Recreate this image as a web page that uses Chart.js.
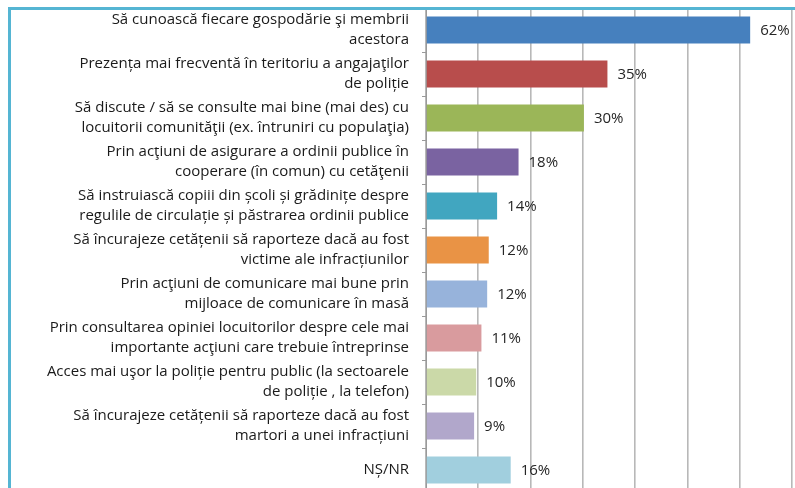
<!DOCTYPE html>
<html>
<head>
<meta charset="utf-8">
<script src="https://cdn.jsdelivr.net/npm/chart.js@4"></script>
<style>
  html, body { margin:0; padding:0; background:#fff; overflow:hidden; }
  #wrap { position:relative; width:795px; height:488px; }
  #c { position:absolute; left:0; top:0; }
  #frame { position:absolute; left:8px; top:7px; width:787px; height:490px;
           border-top:3px solid #55b5d3; border-left:3px solid #55b5d3; pointer-events:none; }
</style>
</head>
<body>
<div id="wrap">
  <canvas id="c" width="795" height="500"></canvas>
  <div id="frame"></div>
</div>
<script>
const categories = [
  ["Să cunoască fiecare gospodărie şi membrii", "acestora"],
  ["Prezența mai frecventă în teritoriu a angajaţilor", "de poliție"],
  ["Să discute / să se consulte mai bine (mai des) cu", "locuitorii comunităţii (ex. întruniri cu populaţia)"],
  ["Prin acţiuni de asigurare a ordinii publice în", "cooperare (în comun) cu cetăţenii"],
  ["Să instruiască copiii din școli și grădinițe despre", "regulile de circulație și păstrarea ordinii publice"],
  ["Să încurajeze cetățenii să raporteze dacă au fost", "victime ale infracțiunilor"],
  ["Prin acţiuni de comunicare mai bune prin", "mijloace de comunicare în masă"],
  ["Prin consultarea opiniei locuitorilor despre cele mai", "importante acţiuni care trebuie întreprinse"],
  ["Acces mai uşor la poliție pentru public (la sectoarele", "de poliție , la telefon)"],
  ["Să încurajeze cetățenii să raporteze dacă au fost", "martori a unei infracțiuni"],
  "NȘ/NR"
];
const values = [62, 34.7, 30.2, 17.7, 13.6, 12.0, 11.7, 10.6, 9.6, 9.2, 16.2];
const barColors = ["#4680be", "#b84d4c", "#9bb658", "#7a63a1", "#41a6c0", "#e99345",
                   "#97b3db", "#d99b9e", "#cbd9a8", "#b1a7cb", "#a1cfde"];

const FONT = "'Open Sans'";

// value labels to the right of each bar
const valueLabels = {
  id: "valueLabels",
  afterDatasetsDraw(chart) {
    const ctx = chart.ctx;
    const meta = chart.getDatasetMeta(0);
    ctx.save();
    ctx.font = "15px " + FONT;
    ctx.fillStyle = "#262626";
    ctx.textBaseline = "middle";
    ctx.textAlign = "left";
    meta.data.forEach((bar, i) => {
      ctx.fillText(Math.round(values[i]) + "%", bar.x + 10, bar.y + 1);
    });
    ctx.restore();
  }
};

new Chart(document.getElementById("c"), {
  type: "bar",
  data: {
    labels: categories,
    datasets: [{
      data: values,
      backgroundColor: barColors,
      borderWidth: 0,
      barPercentage: 0.61,
      categoryPercentage: 1
    }]
  },
  options: {
    indexAxis: "y",
    responsive: false,
    animation: false,
    layout: { padding: { top: 8, right: 3, bottom: 8, left: 0 } },
    plugins: { legend: { display: false }, tooltip: { enabled: false } },
    scales: {
      x: {
        min: 0, max: 70,
        ticks: { display: false, stepSize: 10 },
        grid: { color: "#b8b8b8", lineWidth: 1.6, drawTicks: false },
        border: { display: false },
        afterFit(scale) { scale.height = 0; scale.paddingLeft = 0; scale.paddingRight = 0; }
      },
      y: {
        afterFit(scale) { scale.width = 426; scale.paddingTop = 0; scale.paddingBottom = 0; },
        ticks: {
          color: "#1a1a1a",
          font: { family: FONT, size: 15, lineHeight: 1.35 },
          padding: 13,
          autoSkip: false
        },
        grid: { drawOnChartArea: false, drawTicks: true, tickLength: 4, color: "#9a9a9a", offset: true },
        border: { display: true, color: "#9a9a9a", width: 1 }
      }
    }
  },
  plugins: [valueLabels]
});
</script>
</body>
</html>
